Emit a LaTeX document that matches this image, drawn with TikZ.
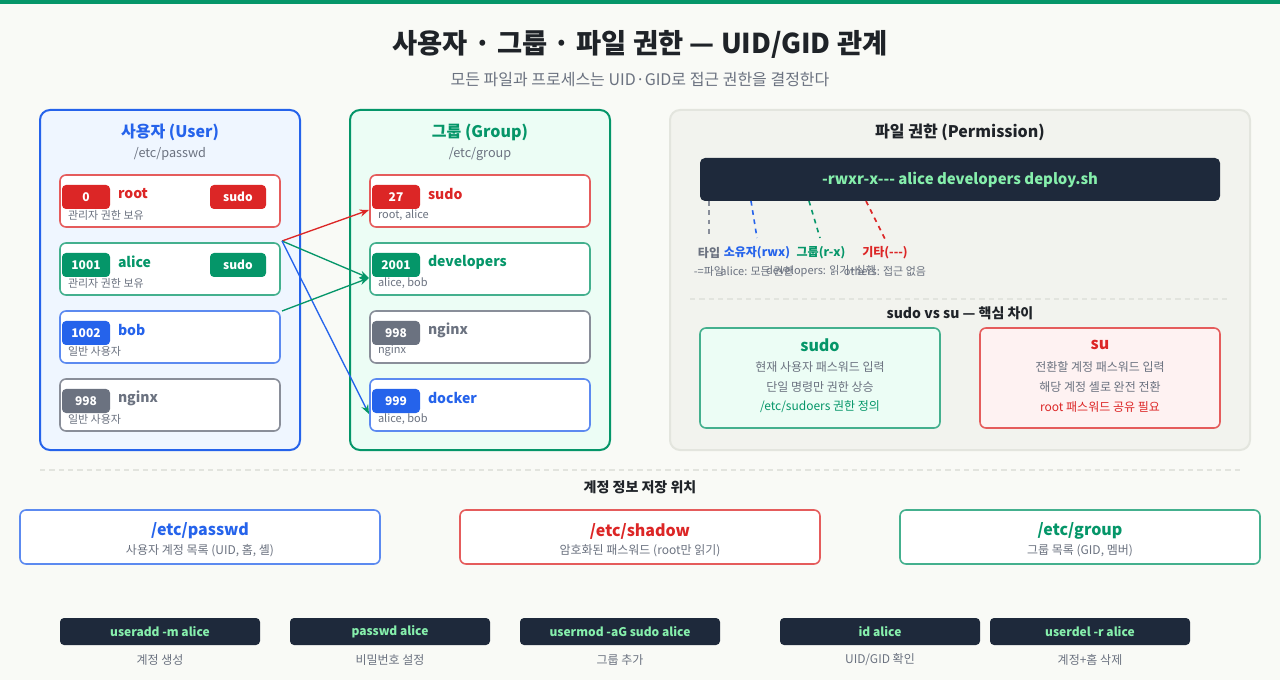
\documentclass[tikz,border=0pt]{standalone}
\usepackage{fontspec}
\setmainfont{Noto Sans CJK KR}
\usetikzlibrary{arrows.meta}
\definecolor{bgc}{HTML}{F9FAF6}
\definecolor{cRed}{HTML}{DC2626}
\definecolor{cGreen}{HTML}{059669}
\definecolor{cBlue}{HTML}{2563EB}
\definecolor{cGray}{HTML}{6B7280}
\definecolor{cDark}{HTML}{1E293B}
\definecolor{cTitle}{HTML}{1F2328}
\definecolor{cCode}{HTML}{86EFAC}
\definecolor{uFill}{HTML}{EFF6FF}
\definecolor{gFill}{HTML}{ECFDF5}
\definecolor{pFill}{HTML}{F2F3EE}
\definecolor{pLine}{HTML}{E3E5DE}
\definecolor{rFill}{HTML}{FEF2F2}
\definecolor{sepc}{HTML}{E2E4DE}
\newcommand\fsz[1]{\fontsize{#1}{#1}\selectfont}
\newcommand\hy{-\kern0pt}
\tikzset{
  every node/.style={inner sep=0pt, outer sep=0pt},
  panel/.style={draw, line width=1.5pt, rounded corners=7.5pt, minimum width=195pt, minimum height=255pt},
  card/.style={draw, line width=1.2pt, fill=white, rounded corners=4.5pt, minimum width=165pt, minimum height=39pt},
  badge/.style={rounded corners=3pt, minimum width=36pt, minimum height=18pt, text=white, font=\bfseries\fsz{9}},
  sbadge/.style={rounded corners=3pt, minimum width=42pt, minimum height=18pt, text=white, font=\bfseries\fsz{9}},
  pname/.style={anchor=west, font=\bfseries\fsz{10.5}},
  psub/.style={anchor=west, font=\fsz{8.25}, text=cGray},
  ptitle/.style={font=\bfseries\fsz{12}},
  ppath/.style={font=\fsz{9.5}, text=cGray},
  link/.style={line width=1pt, -{Stealth[length=7pt,width=5.5pt]}},
  perm/.style={line width=1.2pt, dash pattern=on 3.5pt off 3.5pt},
  plab/.style={font=\bfseries\fsz{9}},
  pdesc/.style={font=\fsz{8.25}, text=cGray},
  cmpbox/.style={draw, line width=1.2pt, rounded corners=4.5pt, minimum width=180pt, minimum height=75pt},
  cmpt/.style={font=\fsz{9}, text=cGray},
  store/.style={draw, line width=1.2pt, fill=white, rounded corners=4.5pt, minimum width=270pt, minimum height=40.5pt},
  cmd/.style={fill=cDark, rounded corners=3pt, minimum width=150pt, minimum height=20.25pt, text=cCode, font=\bfseries\fsz{9}},
  cmdsub/.style={font=\fsz{9}, text=cGray},
}
\begin{document}
\begin{tikzpicture}[x=0.75pt,y=-0.75pt]
\useasboundingbox (0,0) rectangle (1280,680);
\fill[bgc] (0,0) rectangle (1280,680);
\fill[cGreen] (0,0) rectangle (1280,4);

\node[font=\bfseries\fsz{20.5}, text=cTitle] (title) at (640,44) {사용자 · 그룹 · 파일 권한 — UID/GID 관계};
\node[font=\fsz{12}, text=cGray] (subtitle) at (640,80) {모든 파일과 프로세스는 UID·GID로 접근 권한을 결정한다};

% ---------- User panel
\node[panel, draw=cBlue, fill=uFill] (upanel) at (170,280) {};
\node[ptitle, text=cBlue] (utitle) at (170,132) {사용자 (User)};
\node[ppath] (upath) at (170,154) {/etc/passwd};

\node[card, draw=cRed!75!white] (uroot) at (170,201) {};
\node[badge, fill=cRed] (broot) at (86,197) {0};
\node[pname, text=cRed] (nroot) at (118,194) {root};
\node[sbadge, fill=cRed] (sroot) at (238,197) {sudo};
\node[psub] (droot) at (68,215) {관리자 권한 보유};

\node[card, draw=cGreen!75!white] (ualice) at (170,269) {};
\node[badge, fill=cGreen] (balice) at (86,265) {1001};
\node[pname, text=cGreen] (nalice) at (118,262) {alice};
\node[sbadge, fill=cGreen] (salice) at (238,265) {sudo};
\node[psub] (dalice) at (68,283) {관리자 권한 보유};

\node[card, draw=cBlue!75!white] (ubob) at (170,337) {};
\node[badge, fill=cBlue] (bbob) at (86,333) {1002};
\node[pname, text=cBlue] (nbob) at (118,330) {bob};
\node[psub] (dbob) at (68,351) {일반 사용자};

\node[card, draw=cGray!80!white] (unginx) at (170,405) {};
\node[badge, fill=cGray] (bnginx) at (86,401) {998};
\node[pname, text=cGray] (nnginx) at (118,398) {nginx};
\node[psub] (dnginx) at (68,419) {일반 사용자};

% ---------- Group panel
\node[panel, draw=cGreen, fill=gFill] (gpanel) at (480,280) {};
\node[ptitle, text=cGreen] (gtitle) at (480,132) {그룹 (Group)};
\node[ppath] (gpath) at (480,154) {/etc/group};

\node[card, draw=cRed!75!white] (gsudo) at (480,201) {};
\node[badge, fill=cRed] (bgsudo) at (396,197) {27};
\node[pname, text=cRed] (ngsudo) at (428,194) {sudo};
\node[psub] (dgsudo) at (378,215) {root, alice};

\node[card, draw=cGreen!75!white] (gdev) at (480,269) {};
\node[badge, fill=cGreen] (bgdev) at (396,265) {2001};
\node[pname, text=cGreen] (ngdev) at (428,262) {developers};
\node[psub] (dgdev) at (378,283) {alice, bob};

\node[card, draw=cGray!80!white] (gnginx) at (480,337) {};
\node[badge, fill=cGray] (bgnginx) at (396,333) {998};
\node[pname, text=cGray] (ngnginx) at (428,330) {nginx};
\node[psub] (dgnginx) at (378,351) {nginx};

\node[card, draw=cBlue!75!white] (gdocker) at (480,405) {};
\node[badge, fill=cBlue] (bgdocker) at (396,401) {999};
\node[pname, text=cBlue] (ngdocker) at (428,398) {docker};
\node[psub] (dgdocker) at (378,419) {alice, bob};

% ---------- links
\coordinate (aStart) at ([shift={(2,-2)}]ualice.north east);
\coordinate (bStart) at ([shift={(2,0)}]ubob.north east);
\coordinate (tSudo) at ([shift={(-1,-17)}]gsudo.south west);
\coordinate (tDev) at ([shift={(-1,-17)}]gdev.south west);
\coordinate (tDocker) at ([shift={(-1,-17)}]gdocker.south west);
\draw[link, cRed] (aStart) -- (tSudo);
\draw[link, cGreen] (aStart) -- (tDev);
\draw[link, cBlue, -{Stealth[length=7pt,width=5.5pt,color=cGreen]}] (aStart) -- (tDocker);
\draw[link, cGreen] (bStart) -- (tDev);

% ---------- Permission panel
\node[draw=pLine, fill=pFill, line width=1.5pt, rounded corners=7.5pt, minimum width=435pt, minimum height=255pt] (ppanel) at (960,280) {};
\node[ptitle, text=cTitle] (ptit) at (960,132) {파일 권한 (Permission)};
\node[fill=cDark, rounded corners=3.75pt, minimum width=390pt, minimum height=32.25pt, text=cCode, font=\bfseries\fsz{11.2}] (pbox) at (960,179.5) {\hy rwxr\hy x\hy\hy\hy{} alice developers deploy.sh};

\node[plab, text=cGray] (ltype) at (709,253) {타입};
\node[plab, text=cBlue] (lown) at (757,253) {소유자(rwx)};
\node[plab, text=cGreen] (lgrp) at (821,253) {그룹(r\hy x)};
\node[plab, text=cRed] (loth) at (885,253) {기타(\hy\hy\hy)};
\coordinate (e1) at (709,238);
\coordinate (e2) at (757,238);
\coordinate (e3) at (820,238);
\coordinate (e4) at (885,239);
\draw[perm, cGray!80!white] (709,201) -- (e1);
\draw[perm, cBlue] (751,201) -- (e2);
\draw[perm, cGreen] (809,201) -- (e3);
\draw[perm, cRed] (866,201) -- (e4);
\node[pdesc] (dtype) at (709,271) {\hy=파일};
\node[pdesc] (down) at (757,271) {alice: 모든 권한};
\node[pdesc] (dgrp) at (821,271) {developers: 읽기+실행};
\node[pdesc] (doth) at (885,271) {others: 접근 없음};

\draw[sepc, line width=0.8pt, dash pattern=on 4pt off 3pt] (690,299) -- (1230,299);
\node[font=\bfseries\fsz{10.5}, text=cTitle] (vs) at (960,313) {sudo vs su — 핵심 차이};

\node[cmpbox, draw=cGreen!75!white, fill=gFill] (bsudo) at (820,378) {};
\node[font=\bfseries\fsz{12}, text=cGreen] (tsudo) at (820,345) {sudo};
\node[cmpt] (sudo1) at (820,367) {현재 사용자 패스워드 입력};
\node[cmpt] (sudo2) at (820,387) {단일 명령만 권한 상승};
\node[cmpt, text=cGreen] (sudo3) at (820,407) {/etc/sudoers 권한 정의};

\node[cmpbox, draw=cRed!75!white, fill=rFill] (bsu) at (1100,378) {};
\node[font=\bfseries\fsz{12}, text=cRed] (tsu) at (1100,345) {su};
\node[cmpt] (su1) at (1100,367) {전환할 계정 패스워드 입력};
\node[cmpt] (su2) at (1100,387) {해당 계정 셸로 완전 전환};
\node[cmpt, text=cRed] (su3) at (1100,407) {root 패스워드 공유 필요};

% ---------- storage
\draw[sepc, line width=0.8pt, dash pattern=on 4pt off 3pt] (40,470) -- (1240,470);
\node[font=\bfseries\fsz{10.5}, text=cTitle] (stit) at (640,487) {계정 정보 저장 위치};

\node[store, draw=cBlue!75!white] (spasswd) at (200,537) {};
\node[font=\bfseries\fsz{12}, text=cBlue] (tpasswd) at (200,531) {/etc/passwd};
\node[cmpt] (dpasswd) at (200,551) {사용자 계정 목록 (UID, 홈, 셸)};

\node[store, draw=cRed!75!white] (sshadow) at (640,537) {};
\node[font=\bfseries\fsz{12}, text=cRed] (tshadow) at (640,531) {/etc/shadow};
\node[cmpt] (dshadow) at (640,551) {암호화된 패스워드 (root만 읽기)};

\node[store, draw=cGreen!75!white] (sgroup) at (1080,537) {};
\node[font=\bfseries\fsz{12}, text=cGreen] (tgroup) at (1080,531) {/etc/group};
\node[cmpt] (dgroup) at (1080,551) {그룹 목록 (GID, 멤버)};

% ---------- commands
\node[cmd] (c1) at (160,631.5) {useradd \hy m alice};
\node[cmdsub] (c1s) at (160,660) {계정 생성};
\node[cmd] (c2) at (390,631.5) {passwd alice};
\node[cmdsub] (c2s) at (390,660) {비밀번호 설정};
\node[cmd] (c3) at (620,631.5) {usermod \hy aG sudo alice};
\node[cmdsub] (c3s) at (620,660) {그룹 추가};
\node[cmd] (c4) at (880,631.5) {id alice};
\node[cmdsub] (c4s) at (880,660) {UID/GID 확인};
\node[cmd] (c5) at (1090,631.5) {userdel \hy r alice};
\node[cmdsub] (c5s) at (1090,660) {계정+홈 삭제};
\end{tikzpicture}
\end{document}
